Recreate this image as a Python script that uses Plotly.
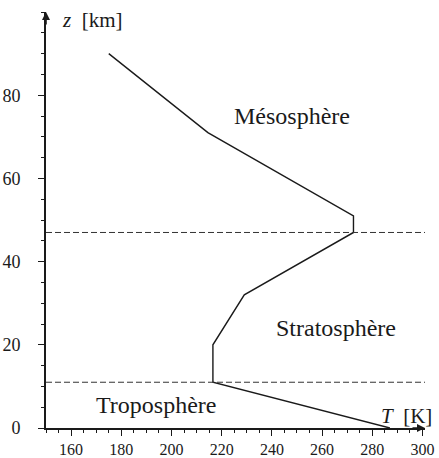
import plotly.graph_objects as go

# Temperature profile (T in K, altitude z in km)
temperature = [287, 216.5, 216.5, 229, 272.5, 272.5, 214.5, 175]
altitude = [0, 11, 20, 32, 47, 51, 71, 90]

# Layer boundaries (km)
boundaries = [11, 47]

# Layer labels: (name, T, z)
layer_names = ["Mésosphère", "Stratosphère", "Troposphère"]
layer_T = [248, 265.5, 194]
layer_z = [75, 24, 5.5]

x_ticks = [160, 180, 200, 220, 240, 260, 280, 300]
y_ticks = [0, 20, 40, 60, 80]

FONT = "Liberation Serif, Times New Roman, serif"
INK = "#1a1a1a"

fig = go.Figure()
fig.add_trace(go.Scatter(
    x=temperature, y=altitude, mode="lines",
    line=dict(color=INK, width=1.4), hoverinfo="skip", showlegend=False,
))

shapes = []
for b in boundaries:
    shapes.append(dict(type="line", xref="x", yref="y", x0=150, x1=301, y0=b, y1=b,
                       line=dict(color="#333333", width=1, dash="6px,3px")))

annotations = []
for name, tx, tz in zip(layer_names, layer_T, layer_z):
    annotations.append(dict(x=tx, y=tz, xref="x", yref="y", text=name, showarrow=False,
                            font=dict(family=FONT, size=24, color=INK)))

annotations.append(dict(x=168.5, y=98, xref="x", yref="y", text="<i>z</i>&nbsp; [km]", showarrow=False,
                        font=dict(family=FONT, size=21, color=INK)))
annotations.append(dict(x=293.5, y=2.8, xref="x", yref="y", text="<i>T</i>&nbsp; [K]", showarrow=False,
                        font=dict(family=FONT, size=21, color=INK)))

# axis arrows
annotations.append(dict(x=1.0, y=0, xref="paper", yref="paper", ax=-14, ay=0, text="",
                        showarrow=True, arrowhead=2, arrowsize=1, arrowwidth=1.6, arrowcolor=INK))
annotations.append(dict(x=0, y=1.0, xref="paper", yref="paper", ax=0, ay=14, text="",
                        showarrow=True, arrowhead=2, arrowsize=1, arrowwidth=1.6, arrowcolor=INK))

fig.update_layout(
    width=439, height=458,
    margin=dict(l=46, r=14, t=12, b=30, autoexpand=False),
    paper_bgcolor="white", plot_bgcolor="white",
    shapes=shapes, annotations=annotations,
    font=dict(family=FONT, size=17, color=INK),
    showlegend=False,
)
fig.update_xaxes(
    range=[150, 301], showgrid=False, zeroline=False, automargin=False,
    showline=True, linecolor=INK, linewidth=1.6,
    tickmode="array", tickvals=x_ticks, ticktext=[str(v) for v in x_ticks],
    ticks="outside", ticklen=6, tickwidth=1.2, tickcolor=INK,
    minor=dict(dtick=5, tick0=150, ticks="outside", ticklen=3, tickwidth=1, tickcolor=INK),
    tickfont=dict(family=FONT, size=16, color=INK),
)
fig.update_yaxes(
    range=[0, 100], showgrid=False, zeroline=False, automargin=False,
    showline=True, linecolor=INK, linewidth=1.6,
    tickmode="array", tickvals=y_ticks, ticktext=[str(v) for v in y_ticks],
    ticks="outside", ticklen=6, tickwidth=1.2, tickcolor=INK,
    minor=dict(dtick=5, tick0=0, ticks="outside", ticklen=3, tickwidth=1, tickcolor=INK),
    tickfont=dict(family=FONT, size=18, color=INK),
    ticklabelstandoff=14,
)

fig.write_html(
    "out.html",
    config={"displayModeBar": False},
    post_script="document.body.style.margin='0';document.body.style.padding='0';document.body.style.overflow='hidden';",
)
